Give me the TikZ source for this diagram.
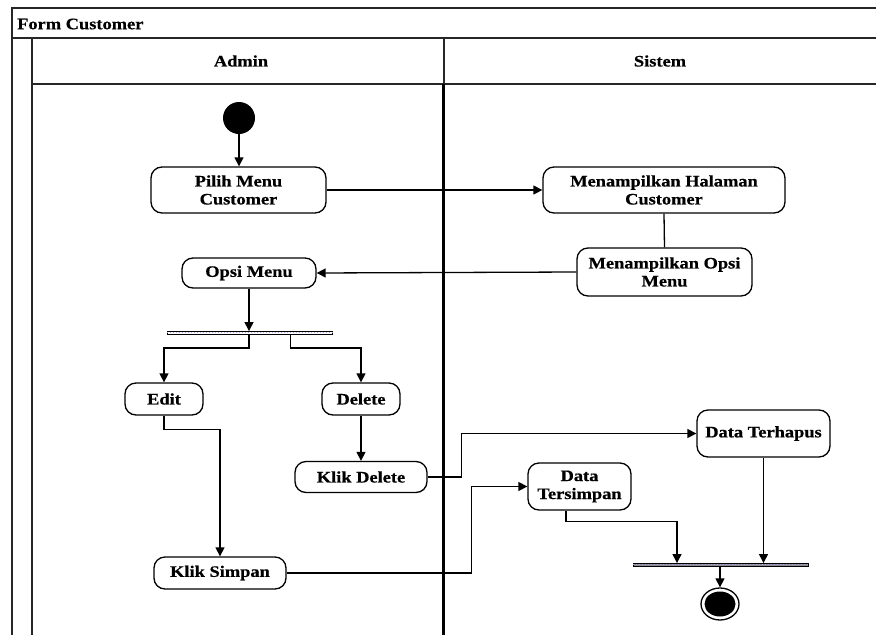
\documentclass[tikz,border=0pt]{standalone}
\usepackage{fontspec}
\setmainfont{Liberation Serif}[FakeStretch=1.15, BoldFeatures={FakeBold=0.6}]
\usetikzlibrary{arrows.meta,shapes.geometric}
\tikzset{
  frameline/.style={line width=1.4pt, draw=black!85},
  lanediv/.style={line width=3pt, draw=black},
  act/.style={draw, rounded corners=11pt, line width=1.3pt, align=center, inner sep=0pt,
    font=\fontsize{16}{18}\selectfont\bfseries},
  lbl/.style={font=\fontsize{16}{18}\selectfont\bfseries, inner sep=0pt},
  bar/.style={draw, fill=white, line width=0.9pt, minimum height=3pt, inner sep=0pt},
  arr/.style={line width=1.3pt, -{Triangle[length=9pt,width=9pt]}},
  conn/.style={line width=1.3pt},
}
\begin{document}
\begin{tikzpicture}[x=1pt,y=-1pt]
\useasboundingbox (0,0) rectangle (876,635);
% swimlane frame
\draw[frameline] (12,635) -- (12,8) -- (876,8);
\draw[frameline] (12,38) -- (876,38);
\draw[frameline] (32,38) -- (32,635);
\draw[frameline] (32,84) -- (876,84);
\draw[frameline] (444,38) -- (444,84);
\node[lbl, anchor=west] (title) at (17,24) {Form Customer};
\node[lbl] (admin) at (241,61) {Admin};
\node[lbl] (sistem) at (660,61) {Sistem};

% nodes
\node[circle, fill=black, minimum width=32pt, inner sep=0pt] (start) at (239,118) {};
\node[act, minimum width=175pt, minimum height=46pt] (pilih) at (238.5,190) {Pilih Menu\\Customer};
\node[act, minimum width=242pt, minimum height=46pt] (halaman) at (664,190) {Menampilkan Halaman\\Customer};
\node[act, minimum width=175pt, minimum height=48pt] (opsiS) at (664.5,272) {Menampilkan Opsi\\Menu};
\node[act, minimum width=134pt, minimum height=30pt] (opsiA) at (249,273) {Opsi Menu};
\node[bar, minimum width=165pt] (fork) at (249.5,333) {};
\draw[line width=1pt, draw=blue!35, dotted] ([yshift=2.5pt]fork.south west) -- ([yshift=2.5pt]fork.south east);
\node[act, minimum width=78pt, minimum height=32pt] (edit) at (164,399) {Edit};
\node[act, minimum width=78pt, minimum height=32pt] (delete) at (361,399) {Delete};
\node[act, minimum width=132pt, minimum height=31pt] (klikdel) at (361,477) {Klik Delete};
\node[act, minimum width=133pt, minimum height=47pt] (terhapus) at (763.5,433.5) {Data Terhapus};
\node[act, minimum width=103pt, minimum height=47pt] (tersimpan) at (579.5,486.5) {Data\\Tersimpan};
\node[act, minimum width=132pt, minimum height=32pt] (simpan) at (220,573) {Klik Simpan};
\node[bar, fill=black!45, minimum width=175pt] (join) at (720.5,565) {};
\draw[line width=1pt, draw=blue!35, dotted] ([yshift=2.5pt]join.south west) -- ([yshift=2.5pt]join.south east);
\node[ellipse, draw, line width=1.3pt, minimum width=38pt, minimum height=32pt, inner sep=0pt] (final) at (720,604) {};
\node[ellipse, fill=black, minimum width=31pt, minimum height=25pt, inner sep=0pt] (finalin) at (720,604) {};

% connectors
\draw[arr] (start.south) -- (start.south |- pilih.north);
\draw[arr] (pilih.east) -- (halaman.west);
\draw[conn] (halaman.south) -- (opsiS.north);
\draw[arr] (opsiS.west) -- (opsiA.east);
\draw[arr] (opsiA.south) -- (fork.north -| opsiA.south);
\draw[arr] (fork.south -| opsiA.south) -- ++(0,13) -| (edit.north);
\draw[arr] ([xshift=41pt]fork.south) -- ++(0,13) -| (delete.north);
\draw[arr] (delete.south) -- (klikdel.north);
\draw[arr] (klikdel.east) -- ++(34,0) |- (terhapus.west);
\draw[arr] (edit.south) -- ++(0,14) -| (simpan.north);
\draw[arr] (simpan.east) -- ++(185,0) |- (tersimpan.west);
\draw[arr] ([xshift=-13.5pt]tersimpan.south) -- ++(0,11) -| ([xshift=-43.5pt]join.north);
\draw[arr] (terhapus.south) -- (terhapus.south |- join.north);
\draw[arr] (join.south -| final.north) -- (final.north);

% lane divider
\draw[lanediv] (443,84) -- (443,635);
\end{tikzpicture}
\end{document}
